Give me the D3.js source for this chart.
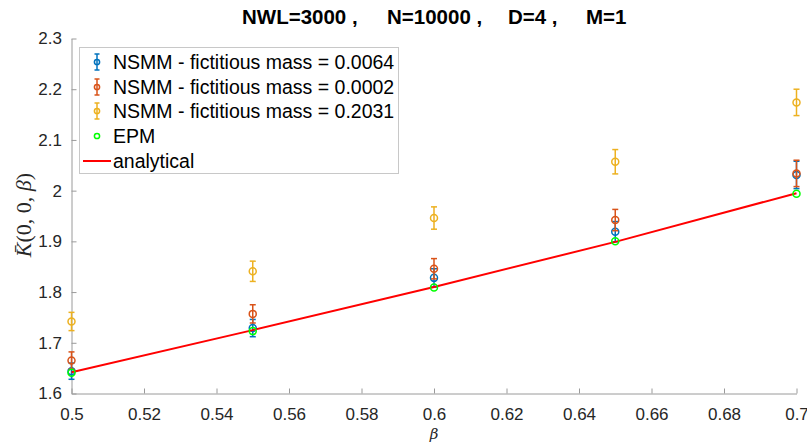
<!DOCTYPE html>
<html>
<head>
<meta charset="utf-8">
<script src="https://cdn.jsdelivr.net/npm/d3@7"></script>
<style>
  body { margin: 0; background: #fff; }
  svg text { font-family: "Liberation Sans", Arial, sans-serif; }
</style>
</head>
<body>
<svg id="chart" width="807" height="443"></svg>
<script>
// data
var beta = [0.5, 0.55, 0.6, 0.65, 0.7];
var mass0064 = [1.644, 1.729, 1.828, 1.919, 2.031];
var err0064 = [0.016, 0.017, 0.018, 0.020, 0.027];
var mass0002 = [1.665, 1.757, 1.846, 1.942, 2.034];
var err0002 = [0.017, 0.018, 0.020, 0.021, 0.026];
var mass2031 = [1.742, 1.841, 1.946, 2.057, 2.174];
var err2031 = [0.018, 0.020, 0.022, 0.024, 0.026];
var epm = [1.641, 1.723, 1.809, 1.900, 1.994];
var analytical = [1.642, 1.725, 1.810, 1.899, 1.995];
var xTicks = [0.5, 0.52, 0.54, 0.56, 0.58, 0.6, 0.62, 0.64, 0.66, 0.68, 0.7];
var yTicks = [1.6, 1.7, 1.8, 1.9, 2, 2.1, 2.2, 2.3];
var titleParts = ["NWL=3000 ,", "N=10000 ,", "D=4 ,", "M=1"];

var series = [
  { name: "NSMM - fictitious mass = 0.0064", vals: mass0064, errs: err0064, color: "#0072BD" },
  { name: "NSMM - fictitious mass = 0.0002", vals: mass0002, errs: err0002, color: "#D95319" },
  { name: "NSMM - fictitious mass = 0.2031", vals: mass2031, errs: err2031, color: "#EDB120" }
];

var svg = d3.select("#chart");
var mLeft = 71.5, mRight = 796.5, mTop = 38.5, mBottom = 393.5;

var x = d3.scaleLinear().domain([0.5, 0.7]).range([mLeft, mRight]);
var y = d3.scaleLinear().domain([1.6, 2.3]).range([mBottom, mTop]);

// axes (MATLAB style, ticks inside, no box)
var xAxis = svg.append("g").attr("transform", "translate(0," + mBottom + ")")
  .call(d3.axisBottom(x).tickValues(xTicks).tickSizeInner(-5).tickSizeOuter(0)
    .tickFormat(function(d) { return String(+d.toFixed(2)); }));
var yAxis = svg.append("g").attr("transform", "translate(" + mLeft + ",0)")
  .call(d3.axisLeft(y).tickValues(yTicks).tickSizeInner(-5).tickSizeOuter(0)
    .tickFormat(function(d) { return String(+d.toFixed(1)); }));

[xAxis, yAxis].forEach(function(a) {
  a.select(".domain").attr("stroke", "#9a9a9a");
  a.selectAll(".tick line").attr("stroke", "#9a9a9a");
  a.selectAll(".tick text").attr("fill", "#262626").style("font-size", "17px");
});
xAxis.selectAll(".tick text").attr("y", 26).attr("dy", 0);
yAxis.selectAll(".tick text").attr("x", -9.5);

// error bars + markers
series.forEach(function(s) {
  var g = svg.append("g").attr("stroke", s.color).attr("stroke-width", 1.5).attr("fill", "none");
  beta.forEach(function(b, i) {
    var cx = x(b), lo = y(s.vals[i] - s.errs[i]), hi = y(s.vals[i] + s.errs[i]);
    g.append("line").attr("x1", cx).attr("x2", cx).attr("y1", lo).attr("y2", hi);
    g.append("line").attr("x1", cx - 3).attr("x2", cx + 3).attr("y1", lo).attr("y2", lo);
    g.append("line").attr("x1", cx - 3).attr("x2", cx + 3).attr("y1", hi).attr("y2", hi);
    g.append("circle").attr("cx", cx).attr("cy", y(s.vals[i])).attr("r", 3.5);
  });
});

// analytical line
var line = d3.line().x(function(d, i) { return x(beta[i]); }).y(function(d) { return y(d); });
svg.append("path").datum(analytical).attr("d", line)
  .attr("fill", "none").attr("stroke", "#FF0000").attr("stroke-width", 2);

// EPM markers
svg.append("g").selectAll("circle").data(epm).join("circle")
  .attr("cx", function(d, i) { return x(beta[i]); })
  .attr("cy", function(d) { return y(d); })
  .attr("r", 3.5).attr("fill", "none").attr("stroke", "#00FF00").attr("stroke-width", 1.5);

// title
var titleX = [242, 387, 508, 586];
svg.append("g").selectAll("text").data(titleParts).join("text")
  .attr("x", function(d, i) { return titleX[i]; }).attr("y", 24)
  .style("font-size", "20.5px").style("font-weight", "bold").attr("fill", "#000")
  .text(function(d) { return d; });

// axis labels
svg.append("text").attr("x", x(0.6)).attr("y", 439).attr("text-anchor", "middle")
  .style("font-family", "'DejaVu Serif', serif").style("font-style", "italic")
  .style("font-size", "15px").attr("fill", "#262626").text("β");

var yl = svg.append("text").attr("transform", "translate(31," + 215 + ") rotate(-90)")
  .attr("text-anchor", "middle").attr("fill", "#262626")
  .style("font-family", "'Liberation Serif', 'Times New Roman', serif").style("font-size", "22px");
yl.append("tspan").style("font-style", "italic").text("K̄");
yl.append("tspan").text("(0, 0, ");
yl.append("tspan").style("font-style", "italic").text("β");
yl.append("tspan").text(")");

// legend
var lg = svg.append("g");
lg.append("rect").attr("x", 79.5).attr("y", 47.5).attr("width", 319).attr("height", 126)
  .attr("fill", "#fff").attr("stroke", "#c8c8c8");
var rows = [62, 87, 111, 136, 161];
series.forEach(function(s, i) {
  var cy = rows[i], cx = 97;
  var g = lg.append("g").attr("stroke", s.color).attr("stroke-width", 1.5).attr("fill", "none");
  g.append("line").attr("x1", cx).attr("x2", cx).attr("y1", cy - 8).attr("y2", cy + 8);
  g.append("line").attr("x1", cx - 2.5).attr("x2", cx + 2.5).attr("y1", cy - 8).attr("y2", cy - 8);
  g.append("line").attr("x1", cx - 2.5).attr("x2", cx + 2.5).attr("y1", cy + 8).attr("y2", cy + 8);
  g.append("circle").attr("cx", cx).attr("cy", cy).attr("r", 2.6);
  lg.append("text").attr("x", 113).attr("y", cy + 7).style("font-size", "19.5px")
    .attr("fill", "#000").text(s.name);
});
lg.append("circle").attr("cx", 97).attr("cy", rows[3]).attr("r", 2.6)
  .attr("fill", "none").attr("stroke", "#00FF00").attr("stroke-width", 1.5);
lg.append("text").attr("x", 113).attr("y", rows[3] + 7).style("font-size", "19.5px").attr("fill", "#000").text("EPM");
lg.append("line").attr("x1", 83).attr("x2", 111).attr("y1", rows[4]).attr("y2", rows[4])
  .attr("stroke", "#FF0000").attr("stroke-width", 2);
lg.append("text").attr("x", 113).attr("y", rows[4] + 7).style("font-size", "19.5px").attr("fill", "#000").text("analytical");
</script>
</body>
</html>
